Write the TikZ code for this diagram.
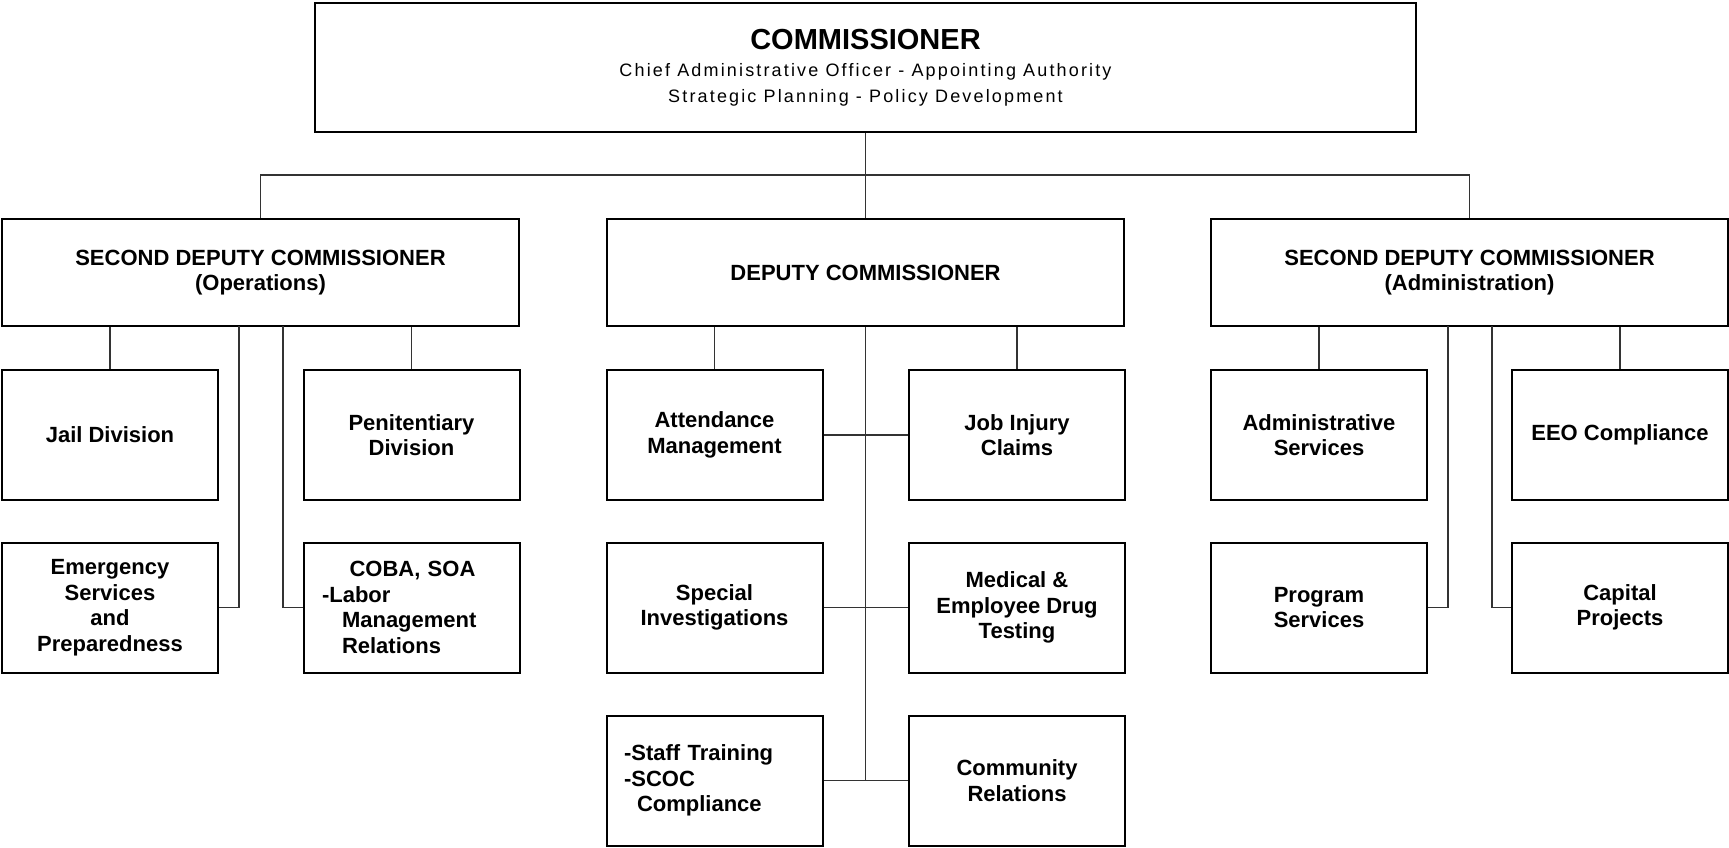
\documentclass[tikz,border=0pt]{standalone}
\usepackage{fontspec}
\setmainfont{Liberation Sans}
\usetikzlibrary{positioning}

\begin{document}
\begin{tikzpicture}[x=0.5pt,y=-0.5pt,
  box/.style={draw,line width=1pt,minimum width=108pt,minimum height=65pt,inner sep=0pt,align=center,font=\bfseries\fontsize{11}{12.75}\selectfont},
  head/.style={box,minimum width=258.5pt,minimum height=53.5pt},
  link/.style={line width=0.6pt,black!80}]
\useasboundingbox (0,0) rectangle (1729,847);
\node[box,minimum width=550.5pt,minimum height=64.5pt] (comm) at (865.5,67.5) {{\fontsize{14.5}{17}\selectfont COMMISSIONER}\\[1pt]
  {\mdseries\fontsize{9}{12.5}\selectfont\addfontfeature{LetterSpace=12}Chief Administrative Officer - Appointing Authority}\\
  {\mdseries\fontsize{9}{12.5}\selectfont\addfontfeature{LetterSpace=12}Strategic Planning - Policy Development}};
\node[head] (sdo) at (260.5,272.5) {SECOND DEPUTY COMMISSIONER\\(Operations)};
\node[head] (dc) at (865.5,272.5) {DEPUTY COMMISSIONER};
\node[head] (sda) at (1469.5,272.5) {SECOND DEPUTY COMMISSIONER\\(Administration)};
\node[box] (jail) at (110,435) {Jail Division};
\node[box] (peni) at (411.5,435) {Penitentiary\\Division};
\node[box] (emerg) at (110,607.5) {Emergency\\Services\\and\\Preparedness};
\node[box,align=left,text width=89.5pt] (coba) at (411.5,607.5) {\hspace{13.75pt}COBA, SOA\\-Labor\\\hspace{10pt}Management\\\hspace{10pt}Relations};
\node[box] (attend) at (714.5,435) {Attendance\\Management};
\node[box] (jobinj) at (1017,435) {Job Injury\\Claims};
\node[box] (specinv) at (714.5,607.5) {Special\\Investigations};
\node[box] (meddrug) at (1017,607.5) {Medical \&\\Employee Drug\\Testing};
\node[box,align=left,text width=90.5pt] (staff) at (714.5,780.5) {-Staff Training\\-SCOC\\\hspace{6.5pt}Compliance};
\node[box] (comrel) at (1017,780.5) {Community\\Relations};
\node[box] (admserv) at (1319,435) {Administrative\\Services};
\node[box] (eeo) at (1620,435) {EEO Compliance};
\node[box] (progserv) at (1319,607.5) {Program\\Services};
\node[box] (capproj) at (1620,607.5) {Capital\\Projects};
\coordinate (bus) at (866,175);
\draw[link] (comm.south) -- (dc.north);
\draw[link] (sdo.north) |- (bus) -| (sda.north);
\coordinate (opsA) at (239,326);
\coordinate (opsB) at (283,326);
\draw[link] (jail.north) -- (jail.north |- sdo.south);
\draw[link] (peni.north) -- (peni.north |- sdo.south);
\draw[link] (emerg.east) -| (opsA);
\draw[link] (coba.west) -| (opsB);
\draw[link] (attend.north) -- (attend.north |- dc.south);
\draw[link] (jobinj.north) -- (jobinj.north |- dc.south);
\draw[link] (dc.south) -- (dc.south |- staff.east);
\draw[link] (attend.east) -- (jobinj.west);
\draw[link] (specinv.east) -- (meddrug.west);
\draw[link] (staff.east) -- (comrel.west);
\coordinate (admA) at (1448,326);
\coordinate (admB) at (1492,326);
\draw[link] (admserv.north) -- (admserv.north |- sda.south);
\draw[link] (eeo.north) -- (eeo.north |- sda.south);
\draw[link] (progserv.east) -| (admA);
\draw[link] (capproj.west) -| (admB);
\end{tikzpicture}
\end{document}
